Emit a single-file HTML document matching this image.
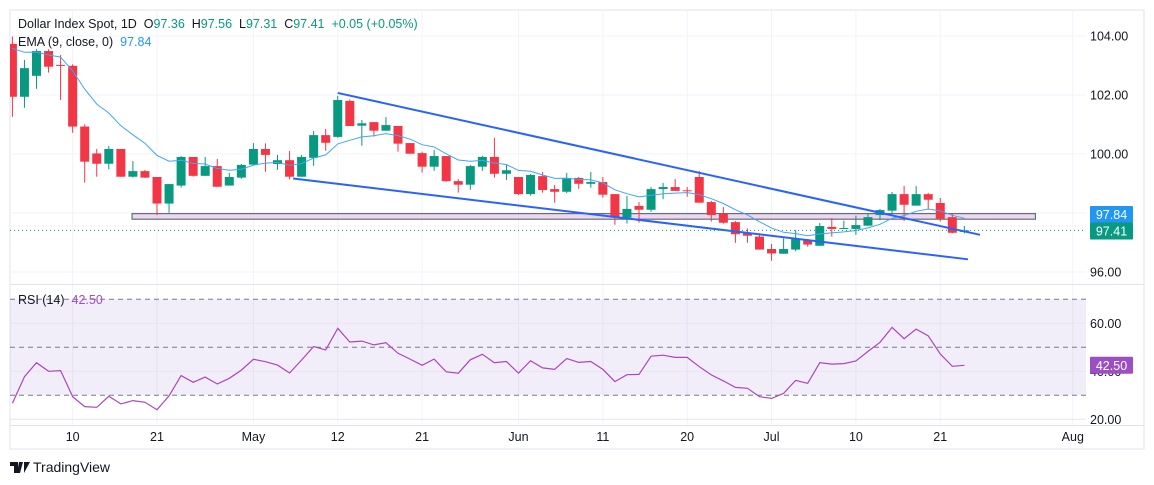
<!DOCTYPE html>
<html><head><meta charset="utf-8"><style>
html,body{margin:0;padding:0;background:#fff;}
svg{display:block;font-family:"Liberation Sans",sans-serif;}
.pre{white-space:pre;}
</style></head><body>
<svg id="chart" width="1154" height="485" viewBox="0 0 1154 485" xmlns="http://www.w3.org/2000/svg">
<defs>
<clipPath id="pclip"><rect x="10" y="10" width="1076" height="274"/></clipPath>
<clipPath id="rclip"><rect x="10" y="285" width="1076" height="140"/></clipPath>
</defs>
<rect x="10" y="10" width="1134" height="439" fill="#fff" stroke="#e0e3eb"/>
<g id="grid"></g>
<line x1="10" y1="284.5" x2="1144" y2="284.5" stroke="#e0e3eb"/>
<line x1="10" y1="425.5" x2="1144" y2="425.5" stroke="#e0e3eb"/>
<g id="price" clip-path="url(#pclip)"></g>
<g id="rsi" clip-path="url(#rclip)"></g>
<g id="axes"></g>
<text class="pre" x="18" y="28" font-size="12.5" fill="#131722">Dollar Index Spot, 1D  <tspan fill="#131722">O</tspan><tspan fill="#089981">97.36</tspan>  <tspan fill="#131722">H</tspan><tspan fill="#089981">97.56</tspan>  <tspan fill="#131722">L</tspan><tspan fill="#089981">97.31</tspan>  <tspan fill="#131722">C</tspan><tspan fill="#089981">97.41</tspan>  <tspan fill="#089981">+0.05 (+0.05%)</tspan></text>
<text class="pre" x="18" y="46" font-size="12.5" fill="#131722">EMA (9, close, 0)  <tspan fill="#2196f3">97.84</tspan></text>
<text class="pre" x="18" y="304" font-size="12.5" fill="#131722">RSI (14)  <tspan fill="#9c4fc2">42.50</tspan></text>
<g>
<path d="M10 462h8v11h-4v-7h-4z M19 462h4l-3 11h-3z M24 462h6l-6 11z" fill="#131722"/>
<text x="33" y="472" font-size="14" fill="#131722">TradingView</text>
</g>
</svg>
<script>
const opens=[103.73,101.94,102.65,103.49,103.02,102.99,100.93,100.02,99.67,100.17,99.23,99.42,99.22,98.32,98.93,99.90,99.26,99.59,98.93,99.20,99.64,100.17,99.66,99.79,99.23,99.87,100.64,100.58,101.80,100.96,101.08,100.79,100.95,100.37,100.03,99.57,99.93,99.08,98.96,99.57,99.90,99.33,99.22,98.64,99.25,98.81,98.72,99.19,98.99,99.05,98.64,97.84,98.24,98.11,98.81,98.88,98.77,99.22,98.37,97.97,97.69,97.31,97.20,96.78,96.62,96.76,97.08,96.89,97.53,97.47,97.46,97.57,97.93,98.08,98.64,98.25,98.64,98.34,97.86,97.36];
const highs=[103.98,103.19,103.55,103.55,103.36,103.04,101.01,100.17,100.27,100.17,99.76,99.46,99.22,98.98,99.93,99.90,99.90,99.83,99.36,99.66,100.37,100.36,99.97,100.10,99.97,100.78,100.85,101.97,101.85,101.15,101.08,101.25,100.95,100.37,100.08,100.13,99.93,99.15,99.63,99.94,100.55,99.65,99.22,99.32,99.39,98.95,99.36,99.22,99.39,99.22,98.64,98.58,98.37,98.88,99.02,99.15,98.88,99.42,98.41,98.20,97.73,97.48,97.31,96.95,97.14,97.42,97.12,97.66,97.83,97.74,97.91,97.97,98.14,98.71,98.92,98.92,98.68,98.51,97.99,97.56];
const lows=[101.26,101.57,102.21,102.76,101.83,100.72,99.03,99.23,99.48,99.23,99.20,99.19,97.93,98.01,98.86,99.23,99.26,98.89,98.93,99.16,99.64,99.40,99.46,99.14,99.23,99.60,100.11,100.55,100.95,100.28,100.59,100.79,100.08,100.01,99.37,99.43,99.06,98.69,98.79,99.43,99.20,99.12,98.61,98.59,98.69,98.35,98.67,98.82,98.86,98.52,97.60,97.64,97.67,98.04,98.47,98.75,98.55,98.35,97.71,97.64,96.99,96.99,96.76,96.38,96.62,96.70,96.86,96.89,97.20,97.47,97.26,97.57,97.76,97.93,97.73,98.25,98.11,97.71,97.31,97.31];
const closes=[101.94,102.91,103.49,102.96,103.00,100.93,99.74,99.67,100.17,99.23,99.42,99.20,98.32,98.98,99.90,99.26,99.59,98.89,99.22,99.63,100.17,99.97,99.79,99.23,99.90,100.64,100.38,101.83,100.95,101.04,100.79,100.98,100.35,100.01,99.57,99.93,99.08,98.96,99.59,99.90,99.33,99.45,98.64,99.29,98.78,98.72,99.19,98.99,99.05,98.62,97.84,98.14,98.11,98.81,98.88,98.75,98.76,98.35,97.93,97.67,97.28,97.23,96.76,96.63,96.78,97.12,96.93,97.56,97.46,97.49,97.59,97.86,98.10,98.64,98.28,98.64,98.45,97.81,97.33,97.41];
const rsiValues=[26.7,37.8,43.6,40.0,40.3,29.4,25.3,25.0,29.6,26.4,27.8,27.1,24.0,29.8,38.2,35.4,37.6,34.7,37.1,40.5,45.0,44.0,42.6,39.3,44.7,50.3,48.9,57.9,52.2,52.6,51.0,51.9,47.5,45.1,42.5,45.1,39.8,39.2,44.8,47.1,43.6,44.1,39.2,44.4,41.4,40.8,45.3,43.7,44.1,40.8,35.7,38.6,38.7,46.3,46.7,45.8,45.8,41.9,38.5,36.0,33.3,32.9,29.4,28.7,30.8,36.2,35.0,43.6,43.0,43.2,44.3,48.3,52.1,58.3,53.6,57.6,54.8,47.2,42.1,42.5];
const emaSeed=103.58;
const emaLastLabel="97.84";
const priceTicks=["104.00","102.00","100.00","98.00","96.00"];
const rsiTicks=["60.00","40.00","20.00"];
const timeLabels=["10","21","May","12","21","Jun","11","20","Jul","10","21","Aug"];
const timeLabelBars=[5,12,20,27,34,42,49,56,63,70,77,88];
const upperTrend=[[27,102.07],[80.3,97.26]];
const lowerTrend=[[23.3,99.17],[79.3,96.43]];
const supportZone=[9.93,84.9,97.98,97.79];

const NS="http://www.w3.org/2000/svg";
const X=i=>12.4+i*12.05;
const Y=p=>36+(104-p)*29.5;
const RY=v=>299.3+(70-v)*2.4;
function mk(tag,attrs,parent){const e=document.createElementNS(NS,tag);for(const k in attrs)e.setAttribute(k,attrs[k]);parent.appendChild(e);return e;}
const grid=document.getElementById('grid'),price=document.getElementById('price'),rsi=document.getElementById('rsi'),axes=document.getElementById('axes');

timeLabelBars.forEach((b,i)=>{
  const l=mk('line',{x1:X(b),x2:X(b),y1:10,y2:425,stroke:'#f0f3fa'},grid);
  
  
  const t=mk('text',{x:X(b),y:441,'font-size':12.5,fill:'#131722','text-anchor':'middle'},axes);
  t.textContent=timeLabels[i];
  
  
});
priceTicks.forEach(s=>{
  const y=Y(parseFloat(s));
  const l=mk('line',{x1:10,x2:1086,y1:y,y2:y,stroke:'#f0f3fa'},grid);
  
  
  if(s!=="98.00"){
  const t=mk('text',{x:1090,y:y+4.5,'font-size':12.5,fill:'#131722'},axes);
  t.textContent=s;
  
  }
});
const band=mk('rect',{x:10,y:RY(70),width:1076,height:RY(30)-RY(70),fill:'#7e57c2','fill-opacity':0.1},rsi);


rsiTicks.forEach(s=>{
  const y=RY(parseFloat(s));
  const l=mk('line',{x1:10,x2:1086,y1:y,y2:y,stroke:'#e8e4f2'},rsi);
  
  
  const t=mk('text',{x:1090,y:y+4.5,'font-size':12.5,fill:'#131722'},axes);
  t.textContent=s;
  
  
});
[70,50,30].forEach(v=>{
  const l=mk('line',{x1:10,x2:1086,y1:RY(v),y2:RY(v),stroke:'#787b86','stroke-dasharray':'5,4'},rsi);
  
  
});
let rp=rsiValues.map((v,i)=>X(i).toFixed(1)+','+RY(v).toFixed(1)).join(' ');
const rl=mk('polyline',{points:rp,fill:'none',stroke:'#ab47bc','stroke-width':1.2},rsi);



const z=mk('rect',{x:X(supportZone[0]),y:Y(supportZone[2]),width:X(supportZone[1])-X(supportZone[0]),height:Y(supportZone[3])-Y(supportZone[2]),fill:'#e1bee7','fill-opacity':0.6,stroke:'#6a6d78','stroke-width':1.2},price);



for(let i=0;i<closes.length;i++){
  const up=closes[i]>=opens[i],c=up?'#089981':'#f23645';
  const w=mk('line',{x1:X(i),x2:X(i),y1:Y(highs[i]),y2:Y(lows[i]),stroke:c,'stroke-width':1},price);
  
  
  const top=Y(Math.max(opens[i],closes[i])),bot=Y(Math.min(opens[i],closes[i]));
  const b=mk('rect',{x:X(i)-4.5,y:top,width:9,height:Math.max(1,bot-top),fill:c},price);
  
  
}
let e=emaSeed,pts=[];const k=2/10;
closes.forEach((c,i)=>{if(i>0)e=c*k+e*(1-k);pts.push(X(i).toFixed(1)+','+Y(e).toFixed(1));});
const el=mk('polyline',{points:pts.join(' '),fill:'none',stroke:'#42a5f5','stroke-width':1},price);


[[upperTrend,'upper-trendline'],[lowerTrend,'lower-trendline']].forEach(([t,n])=>{
  const l=mk('line',{x1:X(t[0][0]),y1:Y(t[0][1]),x2:X(t[1][0]),y2:Y(t[1][1]),stroke:'#2962ff','stroke-width':2},price);
  
  
});
const last=closes[closes.length-1];
const lp=mk('line',{x1:10,x2:1086,y1:Y(last),y2:Y(last),stroke:'#089981','stroke-dasharray':'1,3'},price);


function lab(y,txt,col,name){
  const g=mk('g',{},axes);
  
  
  mk('rect',{x:1090,y:y-8.5,width:43,height:17,fill:col,rx:1},g);
  const t=mk('text',{x:1111.5,y:y+4.5,'font-size':12.5,fill:'#fff','text-anchor':'middle'},g);
  t.textContent=txt;
}
lab(214.5,emaLastLabel,'#2196f3','ema-price-label');
lab(231,last.toFixed(2),'#089981','last-price-label');
lab(RY(rsiValues[rsiValues.length-1]),rsiValues[rsiValues.length-1].toFixed(2),'#9c4fc2','rsi-value-label');
</script>
</body></html>
